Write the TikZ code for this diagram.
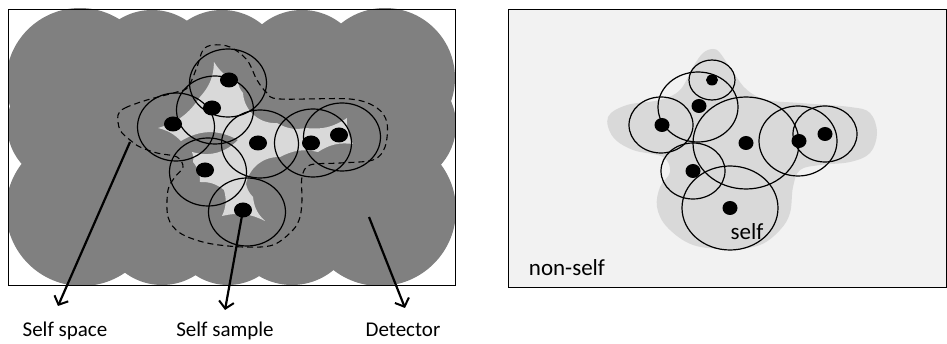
\documentclass[tikz,border=0pt]{standalone}
\usepackage{fontspec}
\setmainfont{Carlito}
\usetikzlibrary{arrows.meta}
\definecolor{darkgr}{RGB}{128,128,128}
\definecolor{lightgr}{RGB}{217,217,217}
\definecolor{panelbg}{RGB}{242,242,242}
\definecolor{blobgr}{RGB}{217,217,217}
\begin{document}
\begin{tikzpicture}[x=1pt,y=-1pt,
  ring/.style={draw=black,line width=1.2pt},
  dotL/.style={fill=black},
  arr/.style={line width=2.2pt,-{Straight Barb[length=7pt,width=15pt,line width=2pt]}},
  lab/.style={font=\fontsize{21}{25}\selectfont,inner sep=0pt,anchor=base},
  labR/.style={font=\fontsize{23}{27}\selectfont,inner sep=0pt,anchor=base},
  selfspace/.style={draw=black,line width=1.1pt,dash pattern=on 6pt off 4pt}]
\useasboundingbox (0,0) rectangle (947,344);

% ---------------- left panel ----------------
\begin{scope}
\clip (8,9) rectangle (455,285);
\fill[darkgr] (80,82) circle[radius=74];
\fill[darkgr] (152,72) circle[radius=62];
\fill[darkgr] (222,73) circle[radius=63];
\fill[darkgr] (302,73) circle[radius=63];
\fill[darkgr] (385,78) circle[radius=70];
\fill[darkgr] (66,125) circle[radius=59];
\fill[darkgr] (396,125) circle[radius=60];
\fill[darkgr] (82,210) circle[radius=76];
\fill[darkgr] (162,223) circle[radius=62];
\fill[darkgr] (228,226) circle[radius=59];
\fill[darkgr] (292,220) circle[radius=65];
\fill[darkgr] (380,210) circle[radius=76];
\fill[darkgr] (60,60) rectangle (400,235);
\end{scope}
\draw[line width=0.9pt] (8,9) rectangle (455,285);

% light grey holes (uncovered self region)
\fill[lightgr] (214,62) to[bend right=18] (238,82) to[bend right=15] (243,93)
  to[bend right=45] (277,123) to[bend right=20] (306,128) to[bend right=20] (347,118)
  to[bend right=15] (353,144) to[bend right=20] (318,152) to[bend right=20] (280,157)
  to[bend right=40] (246,184) to[bend right=15] (253,197) to[bend right=20] (265,221)
  to[bend right=20] (222,216) to[bend right=20] (224,190) to[bend right=20] (200,182)
  to[bend right=20] (193,162) to[bend right=15] (192,152) to[bend right=30] (238,140)
  to[bend right=30] (181,141) to[bend right=15] (158,128) to[bend right=20] (200,97)
  to[bend right=20] (214,62) -- cycle;

% self space outline
\draw[selfspace] plot[smooth cycle,tension=0.55] coordinates {
 (118,115) (125,108) (147,100) (177,92) (188,87) (197,67) (203,50) (213,45) (230,47)
 (247,60) (257,80) (267,93) (280,99) (350,99) (377,108) (387,123) (385,147) (373,160)
 (340,163) (310,165) (302,177) (302,200) (300,217) (293,230) (273,245) (243,247)
 (207,243) (180,233) (168,217) (168,190) (175,177) (183,167) (177,157) (157,153)
 (140,147) (130,140) (120,130)};

% self samples (left)
\foreach \n/\cx/\cy/\dx/\dy in {a/228/83/229/80, b/215/110/212/108, c/176/127/173/124,
  d/260/144/258/143, e/313/143/311/143, f/342/137/339/135, g/208/172/205/170, h/247/212/243/210}{
  \draw[ring] (\cx,\cy) ellipse[x radius=38.5,y radius=34];
  \fill[dotL] (\dx,\dy) ellipse[x radius=9,y radius=7.5] coordinate (L\n);
}

% arrows and labels
\coordinate (ssStart) at (130,142);
\coordinate (ssEnd) at (58,306);
\coordinate (smEnd) at (225,310);
\coordinate (dtStart) at (369,217);
\coordinate (dtEnd) at (405,308);
\draw[arr] (ssStart) -- (ssEnd);
\draw[arr] (Lh) -- (smEnd);
\draw[arr] (dtStart) -- (dtEnd);
\node[lab] (lss) at (65,337) {Self space};
\node[lab] (lsm) at (225,337) {Self sample};
\node[lab] (ldt) at (403,337) {Detector};

% ---------------- right panel ----------------
\fill[panelbg] (508,9) rectangle (946,287);
\fill[blobgr] plot[smooth cycle,tension=0.6] coordinates {
 (713,49) (720,53) (733,72) (747,90) (767,100) (800,103) (850,107) (870,113) (877,133)
 (870,153) (850,162) (820,165) (800,170) (793,187) (790,213) (780,230) (760,245)
 (730,249) (693,245) (667,227) (657,207) (660,187) (670,172) (663,157) (633,150)
 (613,137) (608,117) (627,105) (660,100) (680,90) (693,67) (703,53)};
\draw[line width=0.9pt] (508,9) rectangle (946,287);

\foreach \cx/\cy/\rx/\ry in {712/80/23/20, 698/107/40/35, 661/125/32/28, 746/143/53/46,
  798/141/39/35, 825/134/32/28, 693/171/32/28, 730/208/48/42}{
  \draw[ring] (\cx,\cy) ellipse[x radius=\rx,y radius=\ry];
}
\foreach \n/\dx/\dy/\rx/\ry in {a/712/80/6/5.5, b/699/106/7.5/7, c/662/125/7.5/7, d/746/143/7.5/7,
  e/799/141/7.5/7, f/825/134/7.5/7, g/693/171/7.5/7, h/730/208/7.5/7}{
  \fill[dotL] (\dx,\dy) ellipse[x radius=\rx,y radius=\ry] coordinate (R\n);
}
\node[labR] (lself) at (747,240) {self};
\node[labR] (lnon) at (567,276) {non-self};
\end{tikzpicture}
\end{document}
